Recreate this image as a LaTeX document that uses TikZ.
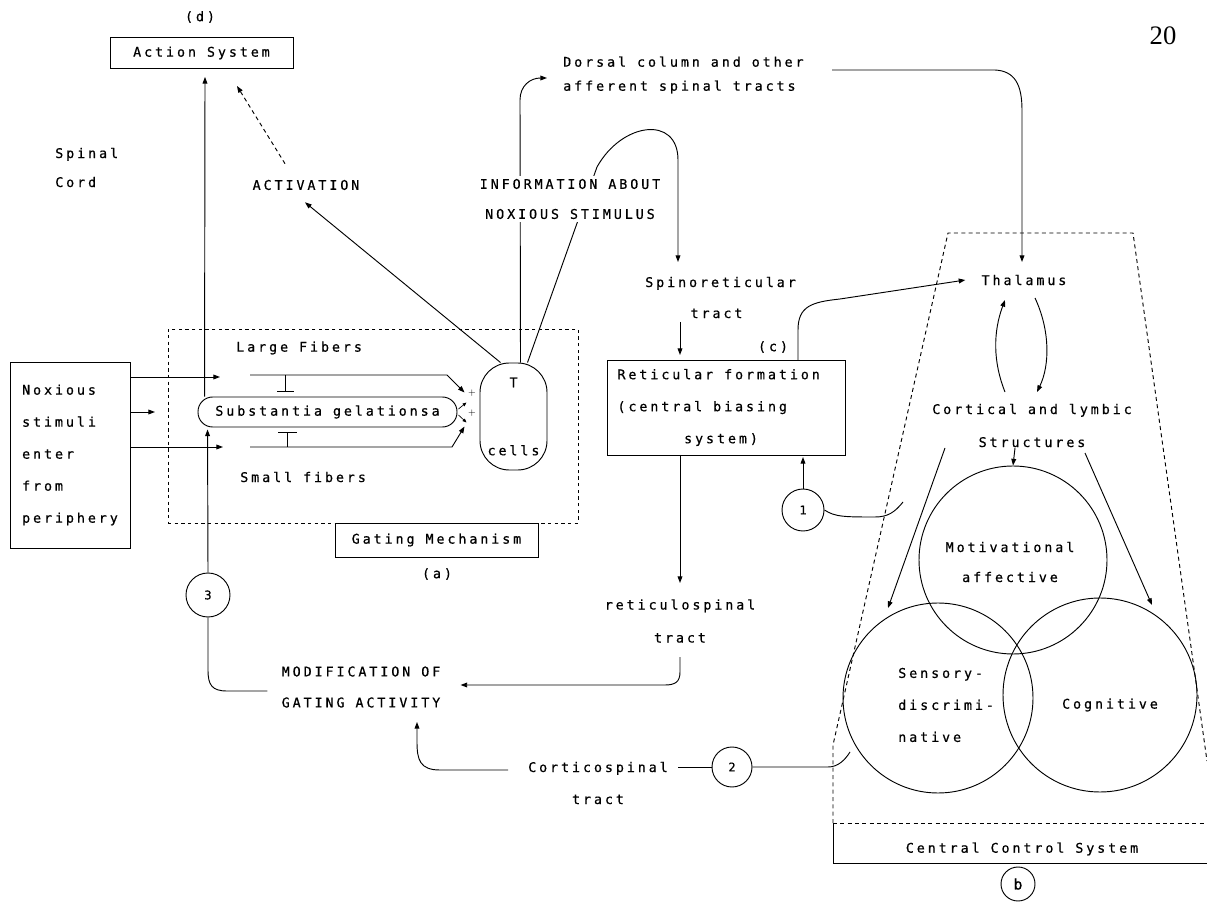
\documentclass[tikz,border=0pt]{standalone}
\usepackage{fontspec}
\newfontfamily\dmfam[LetterSpace=22,FakeBold=0.6]{DejaVu Sans Mono}
\newfontfamily\pgfam{Liberation Serif}
\usetikzlibrary{arrows.meta,calc}
\tikzset{
  dm/.style={font=\dmfam\fontsize{10}{24}\selectfont, inner sep=0pt},
  ln/.style={line width=0.7pt},
  arr/.style={line width=0.7pt, -{Triangle[length=5pt,width=3.6pt]}},
  sarr/.style={line width=0.5pt, -{Triangle[length=3pt,width=2.4pt]}},
  bx/.style={draw, line width=0.7pt},
  num/.style={circle, draw, line width=0.7pt, inner sep=0pt, font=\dmfam\fontsize{9}{10}\selectfont},
  big/.style={circle, draw, line width=0.7pt, inner sep=0pt},
  dotbox/.style={draw, line width=0.7pt, dash pattern=on 2.5pt off 2.5pt},
  dsh/.style={line width=0.7pt, dash pattern=on 3pt off 2.5pt},
}
\begin{document}
\begin{tikzpicture}[x=0.75pt,y=-0.75pt]
\useasboundingbox (0,0) rectangle (1207,905);

% ---------- top-left ----------
\node[dm] (d) at (200,17) {(d)};
\node[bx, dm, minimum width=137.25pt, minimum height=23.25pt] (act) at (201.5,53) {Action System};
\node[dm, align=left, anchor=west] (spinal) at (55,167.5) {Spinal\\[-2.25pt]Cord};
\node[dm] (activ) at (306,185) {ACTIVATION};
\node[font=\pgfam\fontsize{20}{24}\selectfont, inner sep=0pt] (pg) at (1163,36) {20};

% ---------- gating region ----------
\node[dotbox, minimum width=307.5pt, minimum height=145.5pt] (gate) at (373,426) {};
\node[bx, dm, minimum width=152.25pt, minimum height=25.5pt] (gm) at (436.5,540) {Gating Mechanism};
\node[dm] (a) at (437,574) {(a)};
\node[bx, dm, minimum width=90pt, minimum height=139.5pt, align=left] (nox) at (70,455)
  {Noxious\\stimuli\\enter\\from\\periphery};
\node[dm, anchor=west] (large) at (236,348) {Large Fibers};
\node[dm, anchor=west] (small) at (240,477) {Small fibers};
\node[bx, dm, rounded corners=11pt, minimum width=194.25pt, minimum height=22.5pt] (subst) at (327.5,412) {Substantia gelationsa};
\node[bx, dm, rounded corners=22pt, minimum width=50.25pt, minimum height=80.25pt, align=center] (tcells) at (513.5,416.5) {T\\[27pt]cells};
\node[num, minimum size=33pt] (c3) at (208,595) {3};

% inputs
\coordinate (i1) at (130,377);
\draw[arr] (i1) -- (220,377);
\draw[arr] (130,412) -- (155,412);
\draw[arr] (130,447) -- (223,447);
% large fiber
\coordinate (lf) at (250,375);
\draw[arr] (lf) -- (447,375) -- ($(tcells.west)+(-15,-24)$);
\draw[ln] (285,375) -- (285,391) (277,391) -- (294,391);
% small fiber
\coordinate (sf) at (250,447);
\draw[arr] (sf) -- (452,447) -- ($(tcells.west)+(-15,10)$);
\draw[ln] (287,447) -- (287,432) (278,432) -- (297,432);
% SG to T
\draw[sarr] ($(subst.east)+(1,-3)$) -- ($(tcells.west)+(-13,-14)$);
\draw[sarr] ($(subst.east)+(1,3)$) -- ($(tcells.west)+(-13,6)$);
\node[font=\sffamily\fontsize{7}{7}\selectfont, inner sep=0pt] at (472,393) {+};
\node[font=\sffamily\fontsize{7}{7}\selectfont, inner sep=0pt] at (472,413) {+};

% SG to action system
\draw[arr] ($(subst.north west)+(7,0)$) -- ($(act.south)+(3.5,8)$);
% modification to SG through 3
\node[dm, align=left] (mod) at (361,687) {MODIFICATION OF\\[-0.75pt]GATING ACTIVITY};
\draw[ln] ($(mod.west)+(-14,4)$) -- (227,691) .. controls (212,691) and (208,685) .. (208,670) -- (c3.south);
\draw[arr] (c3.north) -- ($(subst.south west)+(10,2)$);

% T cells to activation, activation to action system
\draw[arr] ($(tcells.north)+(-13,0)$) -- ($(activ.south)+(-1,12)$);
\draw[dsh, -{Triangle[length=5pt,width=3.6pt]}] ($(activ.north)+(-21,-16)$) -- ($(act.south)+(35.5,17)$);

% T cells upward
\node[dm, align=left, anchor=west] (dorsal) at (563,75) {Dorsal column and other\\[-6pt]afferent spinal tracts};
\draw[arr] ($(tcells.north)+(7,0)$) -- (520,100) .. controls (520,86) and (530,78) .. ($(dorsal.west)+(-16,3)$);
\node[dm, align=left, anchor=west] (spinoret) at (645,297.5) {Spinoreticular\\[-0.75pt]\hspace*{3.4em}tract};
\coordinate (sp1) at (678,262);
\draw[arr] ($(tcells.north)+(14,0)$) -- (597,167) .. controls (622,122) and (678,115) .. (678,160) -- (sp1);
\node[dm, align=center, fill=white, inner sep=2pt] (info) at (570,199) {INFORMATION ABOUT\\[-1.5pt]NOXIOUS STIMULUS};

% ---------- reticular formation ----------
\node[bx, dm, minimum width=178.5pt, minimum height=71.25pt, align=left] (recf) at (726,407.5)
  {Reticular formation\hspace*{1.1em}\\(central biasing\\\hspace*{5em}system)};
\node[dm] (c) at (773,347) {(c)};
\draw[arr] (680,322) -- (680,355);
\node[dm, align=center] (retsp) at (680,621) {reticulospinal\\[0.75pt]tract};
\draw[arr] (680,455) -- (680,583);
\draw[arr] (680,657) -- (680,672) .. controls (680,682) and (675,685) .. (665,685) -- ($(mod.east)+(20,-2)$);

\node[num, minimum size=31.5pt] (c1) at (803,510) {1};
\draw[arr] (c1.north) -- (803,457);
\draw[ln] (c1.east) .. controls (835,517) and (845,517) .. (875,517) .. controls (888,517) and (895,512) .. (903,502);

\node[dm, align=center] (cortico) at (598,783) {Corticospinal\\tract};
\node[num, minimum size=30pt] (c2) at (732,767) {2};
\coordinate (modin) at (417,722);
\draw[arr] (508,770) -- (440,770) .. controls (420,770) and (417,760) .. (417,742) -- (modin);
\draw[ln] (678,767) -- (c2.west);
\draw[ln] (c2.east) -- (828,767) .. controls (838,767) and (845,760) .. (850,752);

% ---------- central control ----------
\node[dm] (thal) at (1024,280) {Thalamus};
\draw[arr] (798,360) -- (798,330) .. controls (798,306) and (812,302) .. (840,299) -- ($(thal.west)+(-16,0)$);
\draw[arr] (832,70) -- (995,70) .. controls (1015,71) and (1022,85) .. (1022,110) -- (1022,262);
\node[dm, align=center] (cort) at (1032,425.5) {Cortical and lymbic\\[0.75pt]Structures};
\draw[arr] (1005,392) .. controls (993,362) and (993,332) .. (1005,300);
\draw[arr] (1035,298) .. controls (1050,330) and (1050,365) .. (1037,392);

\draw[dsh] (833,823) -- (833,745) -- (948,233) -- (1133,233) -- (1207,761);
\draw[dsh] (833,823) -- (1207,823);
\draw[ln] (833,823) -- (833,863) -- (1207,863);
\node[dm] (ccs) at (1022,849) {Central Control System};
\node[num, minimum size=25.5pt, font=\dmfam\fontsize{11}{12}\selectfont] (b) at (1018,884) {b};

\node[big, minimum size=141pt] (motiv) at (1013,560) {};
\node[dm, align=center] (motivt) at (1010,562) {Motivational\\[-1.5pt]affective};
\node[big, minimum size=142.5pt] (sens) at (938,698) {};
\node[dm, align=left, anchor=west] (senst) at (898,705) {Sensory-\\discrimi-\\native};
\node[big, minimum size=145.5pt] (cogn) at (1100,695) {};
\node[dm] (cognt) at (1110,705) {Cognitive};

\draw[arr] (1015,448) -- (motiv.north);
\draw[arr] (945,448) -- (888,608);
\draw[arr] (1085,453) -- (1152,605);
\end{tikzpicture}
\end{document}
